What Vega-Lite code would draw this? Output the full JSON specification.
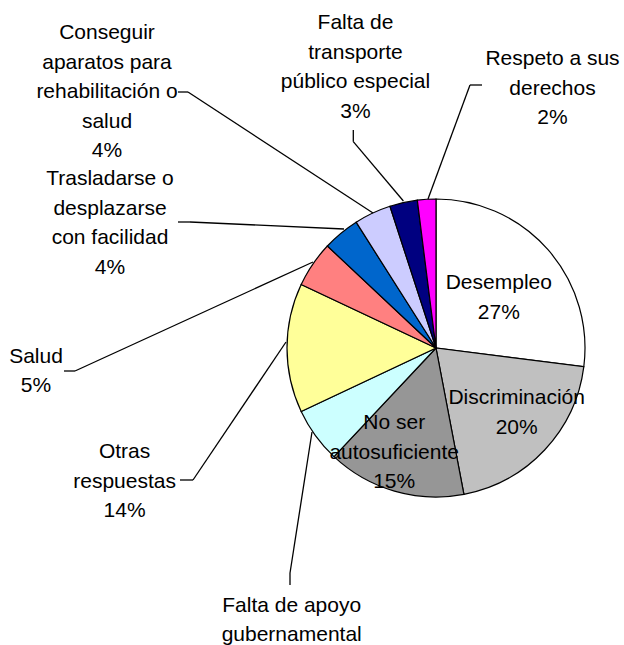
{
  "$schema": "https://vega.github.io/schema/vega-lite/v6.json",
  "width": 624,
  "height": 645,
  "padding": 0,
  "autosize": {"type": "none"},
  "background": "white",
  "config": {
    "view": {"stroke": null},
    "axis": {"domain": false, "ticks": false, "labels": false, "grid": false, "title": null},
    "text": {"font": "Liberation Sans", "fontSize": 21, "lineHeight": 29.5, "lineBreak": "\n", "color": "black", "align": "center", "baseline": "alphabetic"},
    "rule": {"color": "black", "strokeWidth": 1.3}
  },
  "data": {
    "values": [
      {"orden": 1, "categoria": "Desempleo", "rotulo": "Desempleo", "valor": 27},
      {"orden": 2, "categoria": "Discriminación", "rotulo": "Discriminación", "valor": 20},
      {"orden": 3, "categoria": "No ser autosuficiente", "rotulo": "No ser\nautosuficiente", "valor": 15},
      {"orden": 4, "categoria": "Falta de apoyo gubernamental", "rotulo": "Falta de apoyo\ngubernamental", "valor": 6},
      {"orden": 5, "categoria": "Otras respuestas", "rotulo": "Otras\nrespuestas", "valor": 14},
      {"orden": 6, "categoria": "Salud", "rotulo": "Salud", "valor": 5},
      {"orden": 7, "categoria": "Trasladarse o desplazarse con facilidad", "rotulo": "Trasladarse o\ndesplazarse\ncon facilidad", "valor": 4},
      {"orden": 8, "categoria": "Conseguir aparatos para rehabilitación o salud", "rotulo": "Conseguir\naparatos para\nrehabilitación o\nsalud", "valor": 4},
      {"orden": 9, "categoria": "Falta de transporte público especial", "rotulo": "Falta de\ntransporte\npúblico especial", "valor": 3},
      {"orden": 10, "categoria": "Respeto a sus derechos", "rotulo": "Respeto a sus\nderechos", "valor": 2}
    ]
  },
  "layer": [
    {
      "mark": {"type": "arc", "radius": 149, "stroke": "black", "strokeWidth": 1.2},
      "encoding": {
        "theta": {"field": "valor", "type": "quantitative", "stack": true},
        "order": {"field": "orden", "type": "quantitative"},
        "color": {
          "field": "categoria",
          "type": "nominal",
          "legend": null,
          "scale": {
            "domain": ["Desempleo", "Discriminación", "No ser autosuficiente", "Falta de apoyo gubernamental", "Otras respuestas", "Salud", "Trasladarse o desplazarse con facilidad", "Conseguir aparatos para rehabilitación o salud", "Falta de transporte público especial", "Respeto a sus derechos"],
            "range": ["#FFFFFF", "#C0C0C0", "#969696", "#CCFFFF", "#FFFF99", "#FF8080", "#0066CC", "#CCCCFF", "#000080", "#FF00FF"]
          }
        },
        "x": {"datum": 0, "type": "quantitative", "axis": null, "scale": {"domain": [-436, 188], "nice": false, "zero": false}},
        "y": {"datum": 0, "type": "quantitative", "axis": null, "scale": {"domain": [-297, 348], "nice": false, "zero": false}}
      }
    },
    {
      "data": {"values": [{}]},
      "layer": [
        {"mark": "rule", "encoding": {"x": {"datum": -258}, "y": {"datum": 256}, "x2": {"datum": -248}, "y2": {"datum": 256}}},
        {"mark": "rule", "encoding": {"x": {"datum": -248}, "y": {"datum": 256}, "x2": {"datum": -63}, "y2": {"datum": 135}}},
        {"mark": "rule", "encoding": {"x": {"datum": -258}, "y": {"datum": 126}, "x2": {"datum": -246}, "y2": {"datum": 126}}},
        {"mark": "rule", "encoding": {"x": {"datum": -246}, "y": {"datum": 126}, "x2": {"datum": -92}, "y2": {"datum": 119}}},
        {"mark": "rule", "encoding": {"x": {"datum": -372}, "y": {"datum": -23}, "x2": {"datum": -361}, "y2": {"datum": -23}}},
        {"mark": "rule", "encoding": {"x": {"datum": -361}, "y": {"datum": -23}, "x2": {"datum": -123}, "y2": {"datum": 86}}},
        {"mark": "rule", "encoding": {"x": {"datum": -256}, "y": {"datum": -132}, "x2": {"datum": -243}, "y2": {"datum": -132}}},
        {"mark": "rule", "encoding": {"x": {"datum": -243}, "y": {"datum": -132}, "x2": {"datum": -150}, "y2": {"datum": 6}}},
        {"mark": "rule", "encoding": {"x": {"datum": -146}, "y": {"datum": -237}, "x2": {"datum": -146}, "y2": {"datum": -225}}},
        {"mark": "rule", "encoding": {"x": {"datum": -146}, "y": {"datum": -225}, "x2": {"datum": -124}, "y2": {"datum": -84}}},
        {"mark": "rule", "encoding": {"x": {"datum": -82.7}, "y": {"datum": 218}, "x2": {"datum": -82.7}, "y2": {"datum": 206.3}}},
        {"mark": "rule", "encoding": {"x": {"datum": -82.7}, "y": {"datum": 206.3}, "x2": {"datum": -32.6}, "y2": {"datum": 147}}},
        {"mark": "rule", "encoding": {"x": {"datum": 34}, "y": {"datum": 263}, "x2": {"datum": 46}, "y2": {"datum": 263}}},
        {"mark": "rule", "encoding": {"x": {"datum": 34}, "y": {"datum": 263}, "x2": {"datum": -8}, "y2": {"datum": 149}}}
      ]
    },
    {
      "transform": [{"calculate": "datum.rotulo + '\\n' + datum.valor + '%'", "as": "etiqueta"}],
      "layer": [
        {"transform": [{"filter": "datum.orden == 1"}], "mark": "text", "encoding": {"x": {"datum": 62.8}, "y": {"datum": 58.7}, "text": {"field": "etiqueta"}}},
        {"transform": [{"filter": "datum.orden == 2"}], "mark": "text", "encoding": {"x": {"datum": 80.7}, "y": {"datum": -56}, "text": {"field": "etiqueta"}}},
        {"transform": [{"filter": "datum.orden == 3"}], "mark": "text", "encoding": {"x": {"datum": -41.8}, "y": {"datum": -81.3}, "text": {"field": "etiqueta"}}},
        {"transform": [{"filter": "datum.orden == 4"}], "mark": "text", "encoding": {"x": {"datum": -144.3}, "y": {"datum": -263.7}, "text": {"field": "etiqueta"}}},
        {"transform": [{"filter": "datum.orden == 5"}], "mark": "text", "encoding": {"x": {"datum": -311.4}, "y": {"datum": -110}, "text": {"field": "etiqueta"}}},
        {"transform": [{"filter": "datum.orden == 6"}], "mark": "text", "encoding": {"x": {"datum": -400}, "y": {"datum": -14.7}, "text": {"field": "etiqueta"}}},
        {"transform": [{"filter": "datum.orden == 7"}], "mark": "text", "encoding": {"x": {"datum": -326}, "y": {"datum": 163}, "text": {"field": "etiqueta"}}},
        {"transform": [{"filter": "datum.orden == 8"}], "mark": "text", "encoding": {"x": {"datum": -329}, "y": {"datum": 308.7}, "text": {"field": "etiqueta"}}},
        {"transform": [{"filter": "datum.orden == 9"}], "mark": "text", "encoding": {"x": {"datum": -80.5}, "y": {"datum": 318.7}, "text": {"field": "etiqueta"}}},
        {"transform": [{"filter": "datum.orden == 10"}], "mark": "text", "encoding": {"x": {"datum": 116.5}, "y": {"datum": 283}, "text": {"field": "etiqueta"}}}
      ]
    }
  ]
}
